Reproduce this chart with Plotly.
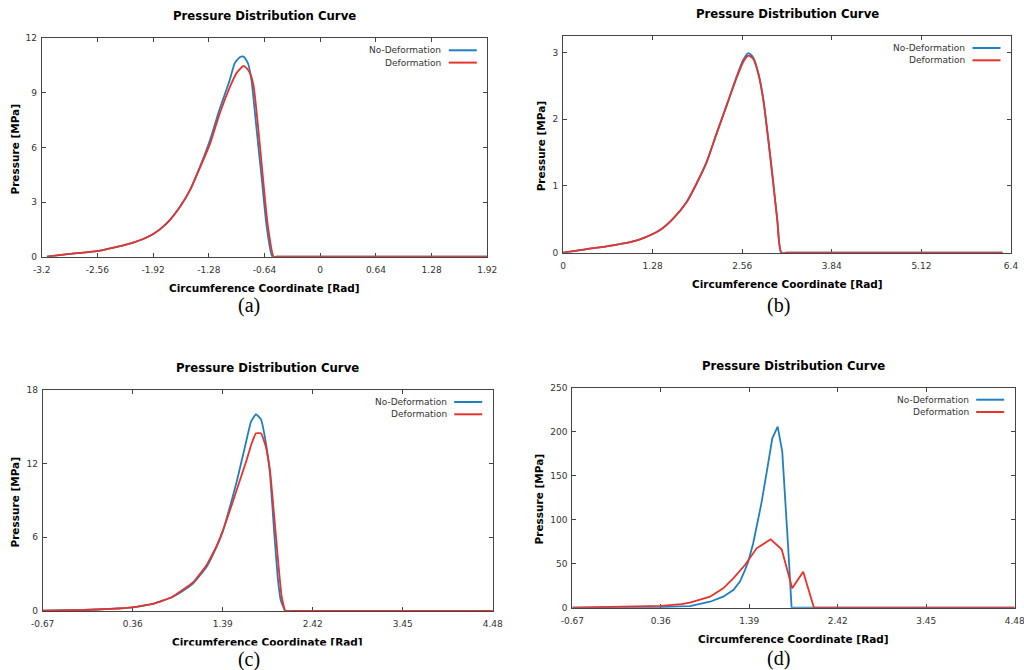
import plotly.graph_objects as go
from plotly.subplots import make_subplots

# ---------------- data ----------------
# (a)
xa_nd = [-3.14, -2.88, -2.53, -2.15, -1.918, -1.764, -1.611, -1.496, -1.381, -1.266, -1.159,
         -1.04, -0.98, -0.92, -0.88, -0.83, -0.79, -0.73, -0.67, -0.615, -0.55,
         -0.50, -0.40, 0.0, 0.64, 1.28, 1.92]
ya_nd = [0.0, 0.15, 0.33, 0.77, 1.25, 1.83, 2.75, 3.66, 4.95, 6.41, 8.06,
         9.7, 10.65, 10.97, 10.99, 10.63, 9.7, 6.96, 4.2, 1.65, 0.0,
         0.0, 0.0, 0.0, 0.0, 0.0, 0.0]
xa_d = [-3.14, -2.88, -2.53, -2.15, -1.918, -1.764, -1.611, -1.496, -1.381, -1.266, -1.159,
        -1.036, -0.96, -0.88, -0.82, -0.77, -0.71, -0.655, -0.60, -0.535,
        -0.50, -0.40, 0.0, 0.64, 1.28, 1.92]
ya_d = [0.0, 0.15, 0.33, 0.77, 1.25, 1.83, 2.75, 3.66, 4.9, 6.2, 7.8,
        9.34, 10.1, 10.48, 10.2, 9.5, 6.96, 4.2, 1.65, 0.0,
        0.0, 0.0, 0.0, 0.0, 0.0, 0.0]

# (b)
xb = [0, 0.32, 0.64, 0.96, 1.10, 1.386, 1.576, 1.767, 1.91, 2.053, 2.196, 2.339, 2.481,
      2.576, 2.647, 2.719, 2.79, 2.862, 2.933, 3.004, 3.061, 3.119, 3.2, 3.4, 3.84, 5.12, 6.28]
yb_nd = [0, 0.05, 0.1, 0.16, 0.2, 0.34, 0.515, 0.76, 1.04, 1.36, 1.79, 2.21, 2.64,
         2.89, 2.99, 2.92, 2.69, 2.29, 1.69, 1.04, 0.49, 0.0, 0.0, 0.0, 0.0, 0.0, 0.0]
yb_d = [0, 0.05, 0.1, 0.16, 0.2, 0.34, 0.515, 0.76, 1.04, 1.36, 1.79, 2.21, 2.62,
        2.86, 2.95, 2.9, 2.68, 2.29, 1.69, 1.04, 0.49, 0.0, 0.0, 0.0, 0.0, 0.0, 0.0]

# (c)
xc_nd = [-0.67, -0.2, 0.1, 0.36, 0.6, 0.8, 0.901, 1.053, 1.207, 1.321, 1.39, 1.473, 1.55,
         1.645, 1.714, 1.771, 1.828, 1.885, 1.931, 1.98, 2.019, 2.054, 2.106,
         2.2, 2.42, 3.45, 4.48]
yc_nd = [0.02, 0.08, 0.17, 0.3, 0.6, 1.1, 1.49, 2.25, 3.61, 5.24, 6.46, 8.5, 10.53,
         13.38, 15.42, 16.04, 15.61, 13.66, 11.2, 6.33, 2.8, 0.9, 0.0,
         0.0, 0.0, 0.0, 0.0]
xc_d = [-0.67, -0.2, 0.1, 0.36, 0.6, 0.8, 0.901, 1.053, 1.207, 1.321, 1.39, 1.473, 1.55,
        1.664, 1.722, 1.771, 1.828, 1.885, 1.931, 1.98, 2.03, 2.065, 2.106,
        2.2, 2.42, 3.45, 4.48]
yc_d = [0.02, 0.08, 0.17, 0.3, 0.6, 1.1, 1.57, 2.35, 3.75, 5.3, 6.5, 8.2, 9.85,
        12.3, 13.66, 14.47, 14.47, 13.38, 11.48, 7.68, 3.6, 1.16, 0.0,
        0.0, 0.0, 0.0, 0.0]

# (d)
xd_nd = [-0.67, 0.0, 0.36, 0.6, 0.70, 0.933, 1.087, 1.204, 1.282, 1.34, 1.378, 1.436, 1.476,
         1.53, 1.60, 1.658, 1.721, 1.774, 1.842, 1.883, 4.48]
yd_nd = [0, 0.2, 0.6, 1.4, 1.9, 6.8, 12.5, 20.1, 29.6, 42.8, 52.3, 73.2, 92,
         118, 158, 192.5, 205.7, 177.3, 70, 0, 0]
xd_d = [-0.67, 0.0, 0.36, 0.6, 0.70, 0.933, 1.087, 1.204, 1.34, 1.476, 1.639, 1.767, 1.890,
        2.018, 2.143, 4.48]
yd_d = [0, 0.8, 2.0, 4.0, 5.7, 12.5, 22, 33.4, 48.5, 67.5, 77.7, 66.4, 22,
        40.9, 0, 0]

# ticks
xt_a = [-3.2, -2.56, -1.92, -1.28, -0.64, 0, 0.64, 1.28, 1.92]
xl_a = ["-3.2", "-2.56", "-1.92", "-1.28", "-0.64", "0", "0.64", "1.28", "1.92"]
yt_a = [0, 3, 6, 9, 12]
xt_b = [0, 1.28, 2.56, 3.84, 5.12, 6.4]
xl_b = ["0", "1.28", "2.56", "3.84", "5.12", "6.4"]
yt_b = [0, 1, 2, 3]
xt_cd = [-0.67, 0.36, 1.39, 2.42, 3.45, 4.48]
xl_cd = ["-0.67", "0.36", "1.39", "2.42", "3.45", "4.48"]
yt_c = [0, 6, 12, 18]
yt_d = [0, 50, 100, 150, 200, 250]

series_names = ["No-Deformation", "Deformation"]
BLUE = "#1f7fc2"
RED = "#e8322b"

W, H = 1024, 670
def px(x):
    return x / W
def py(y):
    return 1 - y / H

# plot areas in pixels: (left, top, right, bottom)
areas = [(41.7, 38.3, 487.3, 256.7),
         (563.0, 36.0, 1011.0, 252.7),
         (42.7, 390.0, 492.7, 611.0),
         (572.3, 387.7, 1014.7, 607.7)]
ytitle_off = [27.7, 22.0, 28.7, 33.6]

fig = make_subplots(rows=2, cols=2)

panels = [
    (xa_nd, ya_nd, xa_d, ya_d, [-3.2, 1.92], xt_a, xl_a, [0, 12], yt_a, "spline", 0.6),
    (xb, yb_nd, xb, yb_d, [0, 6.4], xt_b, xl_b, [0, 3.245], yt_b, "spline", 0.7),
    (xc_nd, yc_nd, xc_d, yc_d, [-0.67, 4.48], xt_cd, xl_cd, [0, 18], yt_c, "spline", 0.3),
    (xd_nd, yd_nd, xd_d, yd_d, [-0.67, 4.48], xt_cd, xl_cd, [0, 250], yt_d, "linear", 0),
]

FONT = "DejaVu Sans"
AX = "#444444"
annotations = []
shapes = []
labels = ["(a)", "(b)", "(c)", "(d)"]

for i, (x1, y1, x2, y2, xr, xt, xl, yr, yt, shp, sm) in enumerate(panels):
    r, c = i // 2 + 1, i % 2 + 1
    ln1 = dict(color=BLUE, width=1.8, shape=shp)
    ln2 = dict(color=RED, width=1.8, shape=shp)
    if shp == "spline":
        ln1["smoothing"] = sm
        ln2["smoothing"] = sm
    fig.add_trace(go.Scatter(x=x1, y=y1, mode="lines", name=series_names[0], line=ln1),
                  row=r, col=c)
    fig.add_trace(go.Scatter(x=x2, y=y2, mode="lines", name=series_names[1], line=ln2),
                  row=r, col=c)
    L, T, R, B = areas[i]
    fig.update_xaxes(domain=[px(L), px(R)], range=xr, tickvals=xt, ticktext=xl,
                     showline=True, linecolor=AX, linewidth=1, mirror="ticks",
                     ticks="inside", ticklen=4, tickcolor=AX, showgrid=False, zeroline=False,
                     automargin=False, ticklabelstandoff=4, ticklabeloverflow="allow",
                     tickfont=dict(family=FONT, size=9, color="#333"), layer="below traces",
                     row=r, col=c)
    fig.update_yaxes(domain=[py(B), py(T)], range=yr, tickvals=yt,
                     showline=True, linecolor=AX, linewidth=1, mirror="ticks",
                     ticks="inside", ticklen=4, tickcolor=AX, showgrid=False, zeroline=False,
                     automargin=False, ticklabelstandoff=2,
                     tickfont=dict(family=FONT, size=9, color="#333"), layer="below traces",
                     row=r, col=c)
    cx = (L + R) / 2
    # title
    annotations.append(dict(text="<b>Pressure Distribution Curve</b>", x=px(cx), y=py(T - 22),
                            xref="paper", yref="paper", xanchor="center", yanchor="middle",
                            showarrow=False, font=dict(family=FONT, size=11.7, color="#000")))
    # x title
    annotations.append(dict(text="<b>Circumference Coordinate [Rad]</b>", x=px(cx), y=py(B + 30.8),
                            xref="paper", yref="paper", xanchor="center", yanchor="middle",
                            showarrow=False, font=dict(family=FONT, size=10.5, color="#000")))
    # y title
    annotations.append(dict(text="<b>Pressure [MPa]</b>", x=px(L - ytitle_off[i]),
                            y=py((T + B) / 2 + 2),
                            xref="paper", yref="paper", xanchor="center", yanchor="middle",
                            textangle=-90, showarrow=False,
                            font=dict(family=FONT, size=10.5, color="#000")))
    # legend (text left of sample line)
    for k, (nm, col) in enumerate(zip(series_names, [BLUE, RED])):
        ly = T + 12 + k * 12.3
        annotations.append(dict(text=nm, x=px(R - 44), y=py(ly), xref="paper", yref="paper",
                                xanchor="right", yanchor="middle", showarrow=False,
                                font=dict(family=FONT, size=9, color="#333")))
        shapes.append(dict(type="line", xref="paper", yref="paper",
                           x0=px(R - 38.5), x1=px(R - 10.5), y0=py(ly), y1=py(ly),
                           line=dict(color=col, width=2)))
    # panel label
    lx = 249 if i % 2 == 0 else 778
    ly = 305 if i < 2 else 658
    if i == 2:
        annotations.append(dict(text=labels[i], x=px(lx), y=py(645), xref="paper", yref="paper",
                                xanchor="center", yanchor="top", showarrow=False,
                                width=300, height=24, bgcolor="#ffffff", valign="middle",
                                font=dict(family="Liberation Serif", size=20, color="#000")))
    else:
        annotations.append(dict(text=labels[i], x=px(lx), y=py(ly), xref="paper", yref="paper",
                                xanchor="center", yanchor="middle", showarrow=False,
                                font=dict(family="Liberation Serif", size=20, color="#000")))

fig.update_layout(width=W, height=H, margin=dict(l=0, r=0, t=0, b=0, autoexpand=False),
                  paper_bgcolor="white", plot_bgcolor="white", showlegend=False,
                  annotations=annotations, shapes=shapes,
                  font=dict(family=FONT))

fig.write_html("out.html", config={"displayModeBar": False},
               post_script="document.body.style.margin='0px';document.body.style.overflow='hidden';")
